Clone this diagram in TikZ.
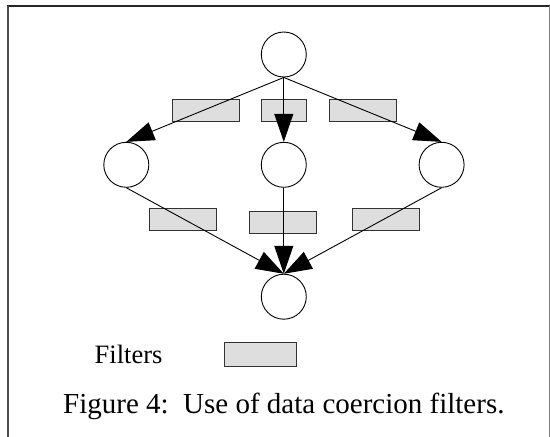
\documentclass[tikz,border=0pt]{standalone}
\usepackage{fontspec}
\setmainfont{Liberation Serif}
\usetikzlibrary{arrows.meta}
\begin{document}
\begin{tikzpicture}[x=1pt,y=-1pt,
  place/.style={circle,draw=black,line width=0.9pt,minimum size=45pt,inner sep=0pt},
  filterbox/.style={draw=black!80,fill=black!13,line width=0.9pt,inner sep=0pt,anchor=north west},
  flow/.style={line width=0.9pt,-{Triangle[length=28pt,width=19pt]}},
  lbl/.style={anchor=base west,inner sep=0pt}]
\useasboundingbox (0,0) rectangle (550,437);
% frame
\draw[black!85,line width=1.4pt] (7,6) -- (549.5,6);
\draw[black!70,line width=2pt] (8,6) -- (8,437);
\draw[black!50,line width=1pt] (549,6) -- (549,437);
% places
\node[place] (t) at (283.8,54.5) {};
\node[place] (l) at (126.3,164.8) {};
\node[place] (m) at (283.8,164.8) {};
\node[place] (r) at (441.6,164.8) {};
\node[place] (b) at (283.8,296.7) {};
% filters
\node[filterbox,minimum width=67pt,minimum height=22pt] (f1) at (171.5,98.7) {};
\node[filterbox,minimum width=45pt,minimum height=22pt] (f2) at (261.3,98.7) {};
\node[filterbox,minimum width=67pt,minimum height=22pt] (f3) at (329,98.7) {};
\node[filterbox,minimum width=67pt,minimum height=22pt] (f4) at (149.1,208.3) {};
\node[filterbox,minimum width=67pt,minimum height=22pt] (f5) at (249,211) {};
\node[filterbox,minimum width=67pt,minimum height=22pt] (f6) at (351.5,208.3) {};
% connectors
\draw[flow] (t.south) -- (l.north);
\draw[flow] (t.south) -- (m.north);
\draw[flow] (t.south) -- (r.north);
\draw[flow] (l.south) -- (b.north);
\draw[flow] (m.south) -- (b.north);
\draw[flow] (r.south) -- (b.north);
% legend
\node[lbl,font=\fontsize{26.5}{30}\selectfont] (lt) at (94.5,363.5) {Filters};
\node[filterbox,minimum width=72pt,minimum height=24pt] (fl) at (223.8,342.3) {};
\node[lbl,font=\fontsize{29}{33}\selectfont] (cap) at (63,413.3) {Figure 4:\ \ Use of data coercion filters.};
\end{tikzpicture}
\end{document}
